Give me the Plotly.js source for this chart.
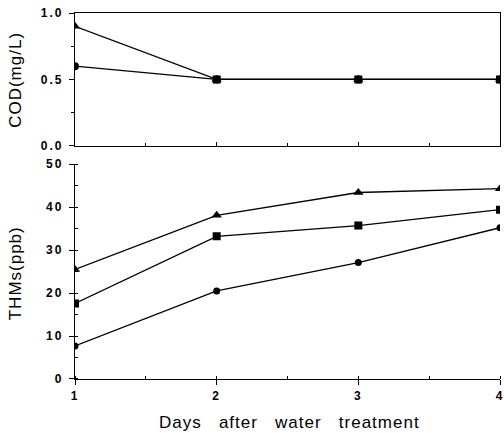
<!DOCTYPE html>
<html>
<head>
<meta charset="utf-8">
<script src="https://cdn.plot.ly/plotly-3.0.1.min.js"></script>
<style>
html,body{margin:0;padding:0;background:#fff;}
#chart{width:504px;height:433px;}
#chart .annotation-text{letter-spacing:1px;}
#chart .ytick text, #chart .y2tick text, #chart .x2tick text{letter-spacing:2px;}
</style>
</head>
<body>
<div id="chart"></div>
<script>
const days = [1, 2, 3, 4];
const codTriangle = [0.9, 0.5, 0.5, 0.5];
const codCircle = [0.6, 0.5, 0.5, 0.5];
const codSquare = [null, 0.5, 0.5, 0.5];
const thmTriangle = [25.5, 38.1, 43.4, 44.3];
const thmSquare = [17.6, 33.2, 35.7, 39.4];
const thmCircle = [7.7, 20.5, 27.1, 35.2];
const codTickVals = [0, 0.5, 1.0];
const codTickText = ['0.0', '0.5', '1.0'];
const thmTickVals = [0, 10, 20, 30, 40, 50];
const thmTickText = ['0', '10', '20', '30', '40', '50'];
const dayTickText = ['1', '2', '3', '4'];
const codTitle = 'COD(mg/L)';
const thmTitle = 'THMs(ppb)';
const xTitle = 'Days\u00a0\u00a0\u00a0after\u00a0\u00a0\u00a0water\u00a0\u00a0\u00a0treatment';

const lineStyle = {color: '#000', width: 1.3};
function tr(y, sym, size, xa, ya) {
  return {x: days, y: y, mode: 'lines+markers', xaxis: xa, yaxis: ya,
    line: lineStyle, marker: {symbol: sym, size: size, color: '#000'},
    connectgaps: false, showlegend: false, hoverinfo: 'none'};
}
const data = [
  tr(codTriangle, 'triangle-up', 9, 'x', 'y'),
  tr(codCircle, 'circle', 8, 'x', 'y'),
  tr(codSquare, 'square', 8, 'x', 'y'),
  tr(thmTriangle, 'triangle-up', 9, 'x2', 'y2'),
  tr(thmSquare, 'square', 8, 'x2', 'y2'),
  tr(thmCircle, 'circle', 7, 'x2', 'y2')
];
const fam = 'Liberation Sans, Arial, sans-serif';
const tickFont = {family: fam, size: 12, color: '#000', weight: 'bold'};
const titleFont = {family: fam, size: 17, color: '#000'};
const layout = {
  width: 504, height: 433,
  margin: {l: 75, r: 4, t: 13, b: 54},
  paper_bgcolor: '#fff', plot_bgcolor: '#fff',
  xaxis: {domain: [0, 1], range: [1, 4], anchor: 'y', showgrid: false, zeroline: false,
    showline: true, linecolor: '#000', linewidth: 1.2, mirror: true,
    tickvals: days, showticklabels: false, ticks: 'inside', ticklen: 4, tickcolor: '#000',
    minor: {dtick: 0.5, ticks: 'inside', ticklen: 3, tickcolor: '#000', showgrid: false}},
  yaxis: {domain: [0.637, 1], range: [0, 1], anchor: 'x', showgrid: false, zeroline: false,
    showline: true, linecolor: '#000', linewidth: 1.2, mirror: true,
    tickvals: codTickVals, ticktext: codTickText, ticks: 'outside', ticklen: 5, tickcolor: '#000',
    tickfont: tickFont, ticklabelstandoff: 3,
    minor: {tickvals: [0.25, 0.75], ticks: 'outside', ticklen: 3, tickcolor: '#000', showgrid: false}},
  xaxis2: {domain: [0, 1], range: [1, 4], anchor: 'y2', showgrid: false, zeroline: false,
    showline: true, linecolor: '#000', linewidth: 1.2,
    tickvals: days, ticktext: dayTickText, ticks: 'outside', ticklen: 5, tickcolor: '#000',
    tickfont: tickFont,
    minor: {dtick: 0.5, ticks: 'inside', ticklen: 3, tickcolor: '#000', showgrid: false}},
  yaxis2: {domain: [0, 0.587], range: [0, 50], anchor: 'x2', showgrid: false, zeroline: false,
    showline: true, linecolor: '#000', linewidth: 1.2,
    tickvals: thmTickVals, ticktext: thmTickText, ticks: 'outside', ticklen: 5, tickcolor: '#000',
    tickfont: tickFont, ticklabelstandoff: 3,
    minor: {dtick: 5, ticks: 'inside', ticklen: 3, tickcolor: '#000', showgrid: false}},
  annotations: [
    {text: codTitle, xref: 'paper', yref: 'paper', x: -0.139, y: 0.8185, textangle: -90,
      xanchor: 'center', yanchor: 'middle', showarrow: false, font: titleFont},
    {text: thmTitle, xref: 'paper', yref: 'paper', x: -0.139, y: 0.29, textangle: -90,
      xanchor: 'center', yanchor: 'middle', showarrow: false, font: titleFont},
    {text: xTitle, xref: 'paper', yref: 'paper', x: 0.505, y: -0.118,
      xanchor: 'center', yanchor: 'middle', showarrow: false, font: titleFont}
  ]
};
Plotly.newPlot('chart', data, layout, {displayModeBar: false, staticPlot: true});
</script>
</body>
</html>
